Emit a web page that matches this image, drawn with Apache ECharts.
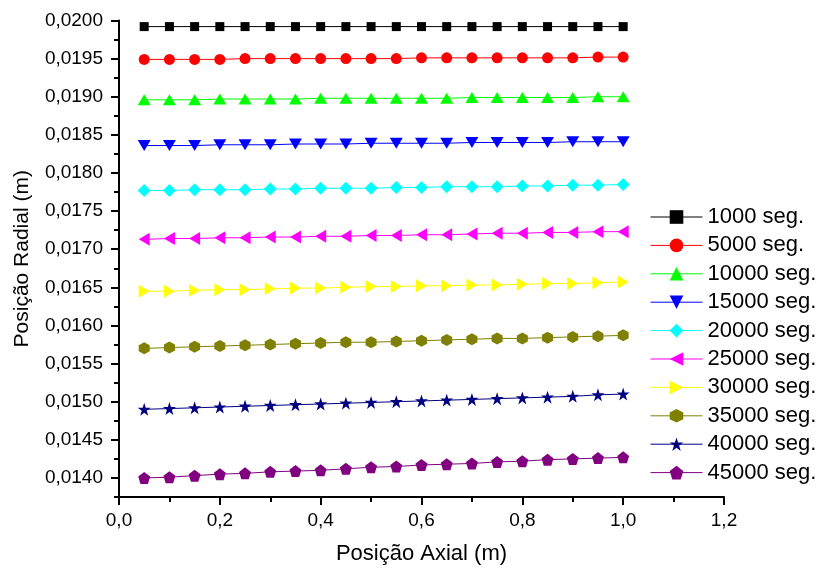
<!DOCTYPE html>
<html>
<head>
<meta charset="utf-8">
<script src="https://cdn.jsdelivr.net/npm/echarts@6/dist/echarts.min.js"></script>
<style>
  html, body { margin: 0; padding: 0; background: #fff; }
  #chart { width: 822px; height: 571px; }
</style>
</head>
<body>
<div id="chart"></div>
<script>
// posição axial (m)
const xPos = [0.05, 0.10, 0.15, 0.20, 0.25, 0.30, 0.35, 0.40, 0.45, 0.50,
  0.55, 0.60, 0.65, 0.70, 0.75, 0.80, 0.85, 0.90, 0.95, 1.00];

const seriesNames = ['1000 seg.', '5000 seg.', '10000 seg.', '15000 seg.', '20000 seg.',
  '25000 seg.', '30000 seg.', '35000 seg.', '40000 seg.', '45000 seg.'];

const r1000 = [0.01992, 0.01992, 0.01992, 0.01992, 0.01992, 0.01992, 0.01992, 0.01992, 0.01992, 0.01992,
  0.01992, 0.01992, 0.01992, 0.01992, 0.01992, 0.01992, 0.01992, 0.01992, 0.01992, 0.01992];
const r5000 = [0.01949, 0.01949, 0.01949, 0.01949, 0.01950, 0.01950, 0.01950, 0.01950, 0.01950, 0.01950,
  0.01950, 0.01951, 0.01951, 0.01951, 0.01951, 0.01951, 0.01951, 0.01951, 0.01952, 0.01952];
const r10000 = [0.01896, 0.01896, 0.01896, 0.01897, 0.01897, 0.01897, 0.01897, 0.01898, 0.01898, 0.01898,
  0.01898, 0.01898, 0.01898, 0.01899, 0.01899, 0.01899, 0.01899, 0.01899, 0.01900, 0.01900];
const r15000 = [0.01836, 0.01836, 0.01836, 0.01837, 0.01837, 0.01837, 0.01838, 0.01838, 0.01838, 0.01839,
  0.01839, 0.01839, 0.01839, 0.01840, 0.01840, 0.01840, 0.01840, 0.01841, 0.01841, 0.01841];
const r20000 = [0.01777, 0.01777, 0.01778, 0.01778, 0.01778, 0.01779, 0.01779, 0.01780, 0.01780, 0.01780,
  0.01781, 0.01781, 0.01782, 0.01782, 0.01782, 0.01783, 0.01783, 0.01784, 0.01784, 0.01785];
const r25000 = [0.01713, 0.01714, 0.01714, 0.01715, 0.01715, 0.01716, 0.01716, 0.01717, 0.01717, 0.01718,
  0.01718, 0.01719, 0.01719, 0.01720, 0.01721, 0.01721, 0.01722, 0.01722, 0.01723, 0.01723];
const r30000 = [0.01645, 0.01645, 0.01646, 0.01647, 0.01647, 0.01648, 0.01649, 0.01649, 0.01650, 0.01651,
  0.01651, 0.01652, 0.01652, 0.01653, 0.01653, 0.01654, 0.01655, 0.01655, 0.01656, 0.01657];
const r35000 = [0.01570, 0.01571, 0.01572, 0.01573, 0.01574, 0.01575, 0.01576, 0.01577, 0.01578, 0.01578,
  0.01579, 0.01580, 0.01581, 0.01582, 0.01583, 0.01583, 0.01584, 0.01585, 0.01586, 0.01587];
const r40000 = [0.01490, 0.01491, 0.01492, 0.01493, 0.01494, 0.01495, 0.01496, 0.01497, 0.01498, 0.01499,
  0.01500, 0.01501, 0.01502, 0.01503, 0.01504, 0.01505, 0.01506, 0.01507, 0.01509, 0.01510];
const r45000 = [0.01400, 0.01401, 0.01403, 0.01405, 0.01406, 0.01408, 0.01409, 0.01410, 0.01412, 0.01414,
  0.01415, 0.01417, 0.01418, 0.01419, 0.01421, 0.01422, 0.01424, 0.01425, 0.01426, 0.01427];

const yMajorTicks = [0.0140, 0.0145, 0.0150, 0.0155, 0.0160, 0.0165, 0.0170, 0.0175,
  0.0180, 0.0185, 0.0190, 0.0195, 0.0200];
const yMinorTicks = [0.01375, 0.01425, 0.01475, 0.01525, 0.01575, 0.01625, 0.01675, 0.01725,
  0.01775, 0.01825, 0.01875, 0.01925, 0.01975];

const allSeries = [r1000, r5000, r10000, r15000, r20000, r25000, r30000, r35000, r40000, r45000];

const colors = ['#000000', '#ff0000', '#00ff00', '#0000ff', '#00ffff',
  '#ff00ff', '#ffff00', '#808000', '#000080', '#800080'];

const symbols = [
  'rect',
  'circle',
  'triangle',
  'path://M0,0L10,0L5,9Z',
  'diamond',
  'path://M0,5L10,0L10,10Z',
  'path://M0,0L10,5L0,10Z',
  'path://M5,0L9.33,2.5L9.33,7.5L5,10L0.67,7.5L0.67,2.5Z',
  'path://M50,0L61.8,35.4L100,35.4L69.1,57.3L80.9,95.1L50,72.4L19.1,95.1L30.9,57.3L0,35.4L38.2,35.4Z',
  'path://M50,0L100,36.3L80.9,95.1L19.1,95.1L0,36.3Z'
];
const symbolSizes = [[9, 9], 11, [13, 11], [13, 11], 13, [11, 13], [11, 13], [11, 12], 13, 12];

const font = "'Liberation Sans', Arial, sans-serif";
const comma = (v, d) => v.toFixed(d).replace('.', ',');

const chart = echarts.init(document.getElementById('chart'));

const series = allSeries.map((vals, i) => ({
  name: seriesNames[i],
  type: 'line',
  data: vals.map((v, j) => [xPos[j], v]),
  symbol: symbols[i],
  symbolSize: symbolSizes[i],
  color: colors[i],
  lineStyle: { width: 1, color: colors[i] },
  itemStyle: { color: colors[i] },
  animation: false
}));

// eixo auxiliar só para os ticks menores
series.push({
  type: 'line',
  yAxisIndex: 1,
  data: [],
  silent: true
});

chart.setOption({
  backgroundColor: '#fff',
  animation: false,
  grid: { left: 119, right: 98, top: 20.5, bottom: 74, containLabel: false },
  legend: {
    orient: 'vertical',
    left: 645,
    top: 201,
    itemWidth: 52,
    itemHeight: 17,
    itemGap: 6.4,
    data: seriesNames,
    lineStyle: { width: 1 },
    textStyle: { fontFamily: font, fontSize: 22, color: '#000' }
  },
  xAxis: {
    type: 'value',
    min: 0,
    max: 1.2,
    interval: 0.2,
    name: 'Posição Axial (m)',
    nameLocation: 'middle',
    nameGap: 46,
    nameTextStyle: { fontFamily: font, fontSize: 22, color: '#000' },
    axisLine: { show: true, lineStyle: { color: '#000', width: 2 } },
    axisTick: { show: true, inside: false, length: 8, lineStyle: { color: '#000', width: 2 } },
    minorTick: { show: true, splitNumber: 2, length: 5, lineStyle: { color: '#000', width: 2 } },
    splitLine: { show: false },
    minorSplitLine: { show: false },
    axisLabel: {
      margin: 14,
      fontFamily: font, fontSize: 19, color: '#000',
      formatter: v => comma(v, 1)
    }
  },
  yAxis: [{
    type: 'value',
    min: 0.01375,
    max: 0.0200,
    name: 'Posição Radial (m)',
    nameLocation: 'middle',
    nameGap: 86,
    nameTextStyle: { fontFamily: font, fontSize: 21, color: '#000' },
    axisLine: { show: true, lineStyle: { color: '#000', width: 2 } },
    axisTick: { show: true, inside: false, length: 8, customValues: yMajorTicks, lineStyle: { color: '#000', width: 2 } },
    splitLine: { show: false },
    axisLabel: {
      margin: 16,
      customValues: yMajorTicks,
      fontFamily: font, fontSize: 19, color: '#000',
      formatter: v => comma(v, 4)
    }
  }, {
    type: 'value',
    position: 'left',
    min: 0.01375,
    max: 0.0200,
    axisLine: { show: false },
    axisTick: { show: true, inside: false, length: 5, customValues: yMinorTicks, lineStyle: { color: '#000', width: 2 } },
    axisLabel: { show: false },
    splitLine: { show: false }
  }],
  series: series
});
</script>
</body>
</html>
